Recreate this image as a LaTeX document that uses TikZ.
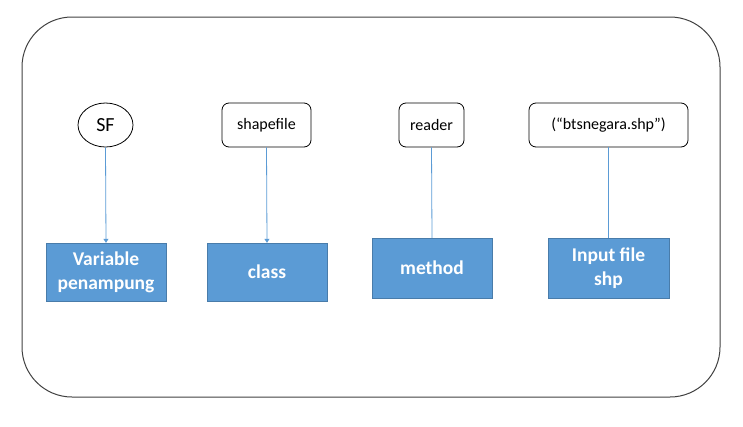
\documentclass[tikz,border=0pt]{standalone}
\usepackage{fontspec}
\setmainfont{Carlito}
\usetikzlibrary{arrows.meta,shapes.geometric}
\definecolor{boxblue}{HTML}{5B9BD5}
\definecolor{frame}{HTML}{404040}
\tikzset{
  topbox/.style={draw=black, line width=0.8pt, rounded corners=7pt, fill=white, inner sep=0pt, font=\fontsize{16}{19}\selectfont},
  topell/.style={draw=black, line width=0.8pt, ellipse, fill=white, inner sep=0pt, font=\fontsize{20}{24}\selectfont},
  bluebox/.style={fill=boxblue, draw=boxblue!80!black, line width=0.4pt, inner sep=0pt, text=white, align=center, font=\bfseries\fontsize{19.5}{24}\selectfont},
  link/.style={draw=boxblue, line width=0.8pt},
  linkarr/.style={link, -{Triangle[width=5pt,length=4pt]}}
}
\begin{document}
\begin{tikzpicture}[x=1pt,y=-1pt]
\useasboundingbox (0,0) rectangle (743,426);
\draw[draw=frame, line width=1pt, rounded corners=50pt] (22,17) rectangle (720,397);
% top row
\node[topell, minimum width=55pt, minimum height=44pt] (sf) at (105.5,125) {SF};
\node[topbox, minimum width=89pt, minimum height=44pt] (shp) at (266.5,125) {shapefile};
\node[topbox, minimum width=65pt, minimum height=44pt] (rd) at (431.5,125) {reader};
\node[topbox, minimum width=159pt, minimum height=44pt] (bts) at (608.5,125) {(“btsnegara.shp”)};
% bottom row
\node[bluebox, minimum width=120pt, minimum height=58pt] (var) at (106,272) {Variable\\penampung};
\node[bluebox, minimum width=120pt, minimum height=58pt] (cls) at (267,272) {class};
\node[bluebox, minimum width=120pt, minimum height=60pt] (met) at (432,268) {method};
\node[bluebox, minimum width=121pt, minimum height=60pt] (inp) at (608.5,268) {Input file\\shp};
% connectors
\draw[linkarr] (sf.south) -- (var.north);
\draw[linkarr] (shp.south) -- (cls.north);
\draw[link] (rd.south) -- (met.north);
\draw[link] (bts.south) -- (inp.north);
\end{tikzpicture}
\end{document}
